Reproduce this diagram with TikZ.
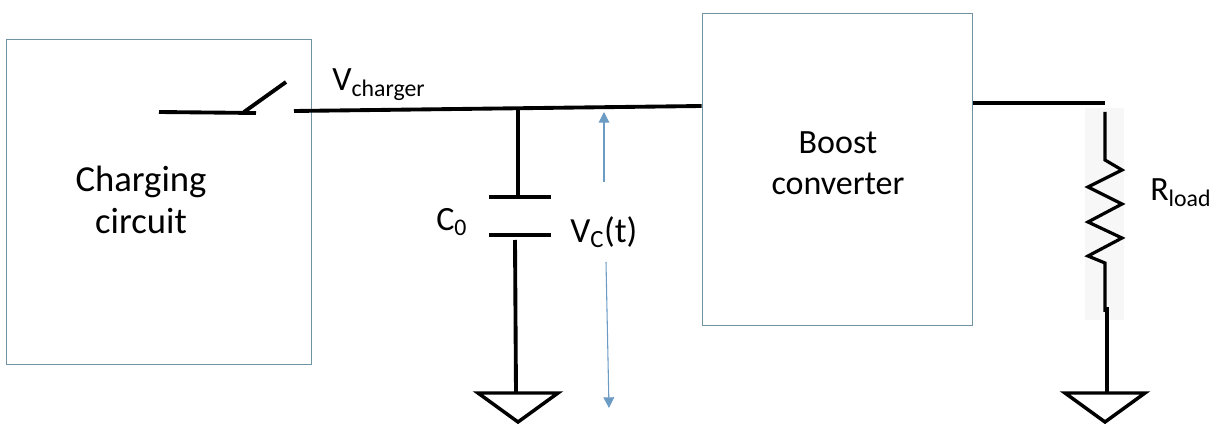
\documentclass[tikz,border=0pt]{standalone}
\usepackage{fontspec}
\setmainfont{Carlito}
\usetikzlibrary{arrows.meta,positioning}
\definecolor{boxline}{HTML}{6F93A3}
\definecolor{arrowblue}{HTML}{6C9BC4}
\tikzset{
  blockbox/.style={draw=boxline,line width=0.7pt,fill=none},
  wire/.style={draw=black,line width=2.9pt,line cap=butt,line join=miter},
  thinwire/.style={draw=black,line width=2.4pt,line cap=butt,line join=miter},
  gnd/.style={draw=black,line width=2.6pt,line join=miter},
  measure/.style={draw=arrowblue,line width=0.8pt,-{Triangle[length=8pt,width=8pt]}},
  big/.style={font=\fontsize{25.5}{31}\selectfont,align=center,inner sep=0pt},
  lab/.style={font=\fontsize{25.5}{30}\selectfont,inner sep=0pt,anchor=base west},
  pt/.style={inner sep=0pt,minimum size=0pt}
}
\begin{document}
\begin{tikzpicture}[x=0.75pt,y=-0.75pt]
\useasboundingbox (0,0) rectangle (1215,424);
% faint image halo behind the resistor
\fill[black!3] (1085,108) rectangle (1124,320);
% blocks
\node[blockbox,pt,minimum width=228.75pt,minimum height=243.75pt] (charge) at (158.5,201.5) {};
\node[blockbox,pt,minimum width=202.5pt,minimum height=234pt] (boost) at (837,169) {};
\node[big,font=\fontsize{27.5}{31}\selectfont] (chargetxt) at (141,200) {Charging\\circuit};
\node[big] (boosttxt) at (838,163) {Boost\\converter};
% coordinates
\coordinate (swl) at (159,112);
\coordinate (swr) at (256,113);
\coordinate (bladea) at (244,112);
\coordinate (bladeb) at (286,82);
\coordinate (busl) at (294,111);
\coordinate (busr) at (boost.west |- 0,106);
\coordinate (tap) at (518,108);
\coordinate (capt) at (518,197);
\coordinate (ptl) at (489,197);
\coordinate (ptr) at (551,197);
\coordinate (pbl) at (489,235);
\coordinate (pbr) at (551,235);
\coordinate (capb) at (515,240);
\coordinate (g1) at (516,393);
\coordinate (g1l) at (478,393);
\coordinate (g1r) at (558,393);
\coordinate (g1a) at (518,422);
\coordinate (oa) at (973,103);
\coordinate (ob) at (1105,103);
\coordinate (ra) at (1105,112);
\coordinate (rb) at (1105,312);
\coordinate (rc) at (1107,307);
\coordinate (g2) at (1107,393);
\coordinate (g2l) at (1065,393);
\coordinate (g2r) at (1145,393);
\coordinate (g2a) at (1105,422);
\coordinate (m1a) at (604,182);
\coordinate (m1b) at (604,112);
\coordinate (m2a) at (606,262);
\coordinate (m2b) at (609,408);
% switch and bus
\draw[wire] (swl) -- (swr);
\draw[wire] (bladea) -- (bladeb);
\draw[wire] (busl) -- (busr);
% capacitor branch
\draw[wire] (tap) -- (capt);
\draw[wire] (ptl) -- (ptr);
\draw[wire] (pbl) -- (pbr);
\draw[wire] (capb) -- (g1);
\draw[gnd] (g1l) -- (g1r) -- (g1a) -- cycle;
% output and load
\draw[wire] (oa) -- (ob);
\draw[thinwire] (ra) -- (1105,160) -- (1122,170) -- (1088,187) -- (1122,204) -- (1088,222) -- (1122,238) -- (1088,256) -- (1105,263) -- (rb);
\draw[wire] (rc) -- (g2);
\draw[gnd] (g2l) -- (g2r) -- (g2a) -- cycle;
% measurement arrows
\draw[measure] (m1a) -- (m1b);
\draw[measure] (m2a) -- (m2b);
% labels
\node[lab] (vcharger) at (332,91) {V\textsubscript{charger}};
\node[lab] (c0) at (436,231) {C\textsubscript{0}};
\node[lab,font=\fontsize{26.5}{30}\selectfont] (vc) at (570,243) {V\textsubscript{C}(t)};
\node[lab] (rload) at (1150,201) {R\textsubscript{load}};
\end{tikzpicture}
\end{document}
